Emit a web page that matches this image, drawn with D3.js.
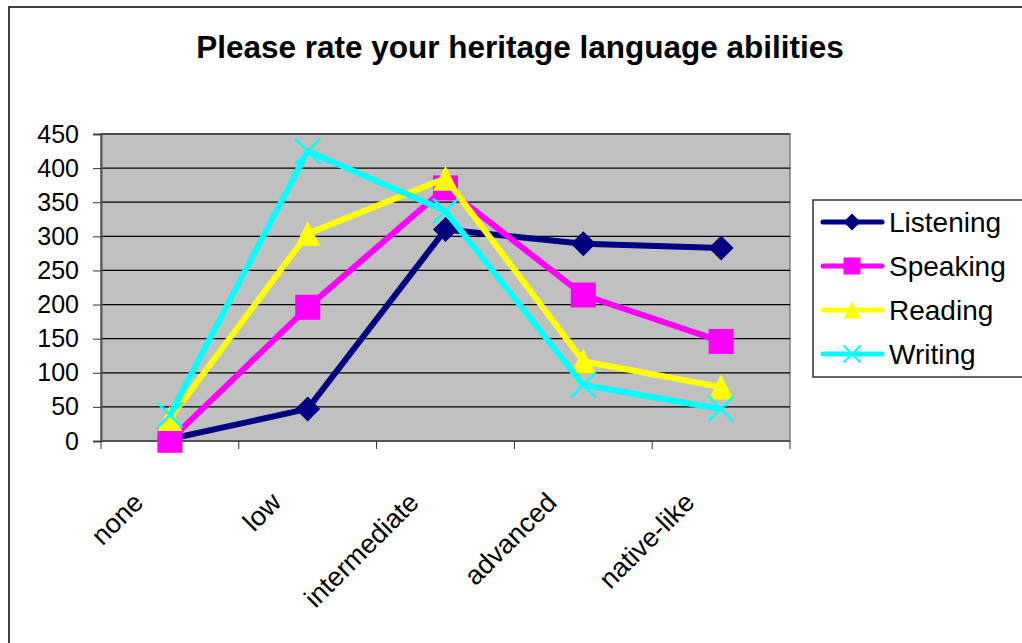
<!DOCTYPE html>
<html>
<head>
<meta charset="utf-8">
<script src="https://cdn.jsdelivr.net/npm/d3@7"></script>
<style>
  body { margin: 0; background: #fff; }
  svg { display: block; font-family: "Liberation Sans", Arial, sans-serif; }
</style>
</head>
<body>
<figure id="chart" style="margin:0"></figure>
<script>
// data
const categories = ['none', 'low', 'intermediate', 'advanced', 'native-like'];
const seriesNames = ['Listening', 'Speaking', 'Reading', 'Writing'];
const listening = [3, 47, 310, 289, 283];
const speaking = [1, 196, 371, 214, 146];
const reading = [33, 304, 385, 117, 79];
const writing = [38, 425, 337, 82, 47];
const yTicks = [0, 50, 100, 150, 200, 250, 300, 350, 400, 450];

const width = 1022;
const height = 643;
const plot = { left: 101, right: 790, top: 134, bottom: 441 };

const colors = ['#000080', '#ff00ff', '#ffff00', '#00ffff'];
const markers = ['diamond', 'square', 'triangle', 'x'];

// marker path, s = half size
function markerPath(type, s) {
  if (type === 'diamond') return `M0,${-s}L${s},0L0,${s}L${-s},0Z`;
  if (type === 'square') return `M${-s},${-s}H${s}V${s}H${-s}Z`;
  if (type === 'triangle') return `M0,${-s}L${s},${s}L${-s},${s}Z`;
  return `M${-s},${-s}L${s},${s}M${-s},${s}L${s},${-s}`;
}

const svg = d3.select('#chart')
  .append('svg')
  .attr('width', width)
  .attr('height', height);

// chart border
svg.append('rect')
  .attr('x', 9).attr('y', 7)
  .attr('width', 1040).attr('height', 660)
  .attr('fill', '#fff')
  .attr('stroke', '#000')
  .attr('stroke-width', 1.5);

svg.append('text')
  .attr('x', 520).attr('y', 58)
  .attr('text-anchor', 'middle')
  .style('font-weight', 'bold')
  .style('font-size', '31.5px')
  .text('Please rate your heritage language abilities');

const x = d3.scaleBand()
  .domain(categories)
  .range([plot.left, plot.right]);

const y = d3.scaleLinear()
  .domain([0, 450])
  .range([plot.bottom, plot.top]);

// plot area
svg.append('rect')
  .attr('x', plot.left).attr('y', plot.top)
  .attr('width', plot.right - plot.left)
  .attr('height', plot.bottom - plot.top)
  .attr('fill', '#c0c0c0')
  .attr('stroke', '#808080')
  .attr('stroke-width', 1.5);

svg.selectAll('.grid')
  .data(yTicks.slice(1))
  .enter()
  .append('line')
  .attr('x1', plot.left).attr('x2', plot.right)
  .attr('y1', d => y(d)).attr('y2', d => y(d))
  .attr('stroke', '#000')
  .attr('stroke-width', 1.2);

// y axis
const yAxis = svg.append('g')
  .attr('transform', `translate(${plot.left},0)`)
  .call(d3.axisLeft(y).tickValues(yTicks).tickSize(8).tickPadding(14));
yAxis.select('.domain').attr('stroke', '#555').attr('stroke-width', 2);
yAxis.selectAll('.tick line').attr('stroke', '#333');
yAxis.selectAll('text')
  .style('font-size', '25px')
  .attr('fill', '#000');

// x axis, ticks between categories
const xEdges = categories.map(c => x(c)).concat([plot.right]);
svg.append('line')
  .attr('x1', plot.left).attr('x2', plot.right)
  .attr('y1', plot.bottom).attr('y2', plot.bottom)
  .attr('stroke', '#555')
  .attr('stroke-width', 2);
svg.selectAll('.xtick')
  .data(xEdges)
  .enter()
  .append('line')
  .attr('x1', d => d).attr('x2', d => d)
  .attr('y1', plot.bottom).attr('y2', plot.bottom + 8)
  .attr('stroke', '#333');

svg.selectAll('.xlabel')
  .data(categories)
  .enter()
  .append('text')
  .attr('transform', d => `translate(${x(d) + x.bandwidth() / 2 - 25},${plot.bottom + 63}) rotate(-45)`)
  .attr('text-anchor', 'end')
  .style('font-size', '27px')
  .text(d => d);

// series
const allValues = [listening, speaking, reading, writing];
const cx = c => x(c) + x.bandwidth() / 2;
const line = d3.line()
  .x((d, i) => cx(categories[i]))
  .y(d => y(d));

allValues.forEach((values, k) => {
  const g = svg.append('g');
  g.append('path')
    .datum(values)
    .attr('d', line)
    .attr('fill', 'none')
    .attr('stroke', colors[k])
    .attr('stroke-width', 6)
    .attr('stroke-linejoin', 'round');

  g.selectAll('.marker')
    .data(values)
    .enter()
    .append('path')
    .attr('transform', (d, i) => `translate(${cx(categories[i])},${y(d)})`)
    .attr('d', markerPath(markers[k], 12.5))
    .attr('fill', markers[k] === 'x' ? 'none' : colors[k])
    .attr('stroke', colors[k])
    .attr('stroke-width', markers[k] === 'x' ? 2.5 : 0);
});

// legend
const legend = svg.append('g');
legend.append('rect')
  .attr('x', 813).attr('y', 200)
  .attr('width', 240).attr('height', 177)
  .attr('fill', '#fff')
  .attr('stroke', '#333')
  .attr('stroke-width', 1.5);

seriesNames.forEach((name, k) => {
  const ly = 222 + k * 44;
  legend.append('line')
    .attr('x1', 823).attr('x2', 882)
    .attr('y1', ly).attr('y2', ly)
    .attr('stroke', colors[k])
    .attr('stroke-width', 5)
    .attr('stroke-linecap', 'round');
  legend.append('path')
    .attr('transform', `translate(852,${ly})`)
    .attr('d', markerPath(markers[k], 8.5))
    .attr('fill', markers[k] === 'x' ? 'none' : colors[k])
    .attr('stroke', colors[k])
    .attr('stroke-width', markers[k] === 'x' ? 2 : 0);
  legend.append('text')
    .attr('x', 889).attr('y', ly)
    .attr('dy', '0.36em')
    .style('font-size', '28px')
    .text(name);
});
</script>
</body>
</html>
